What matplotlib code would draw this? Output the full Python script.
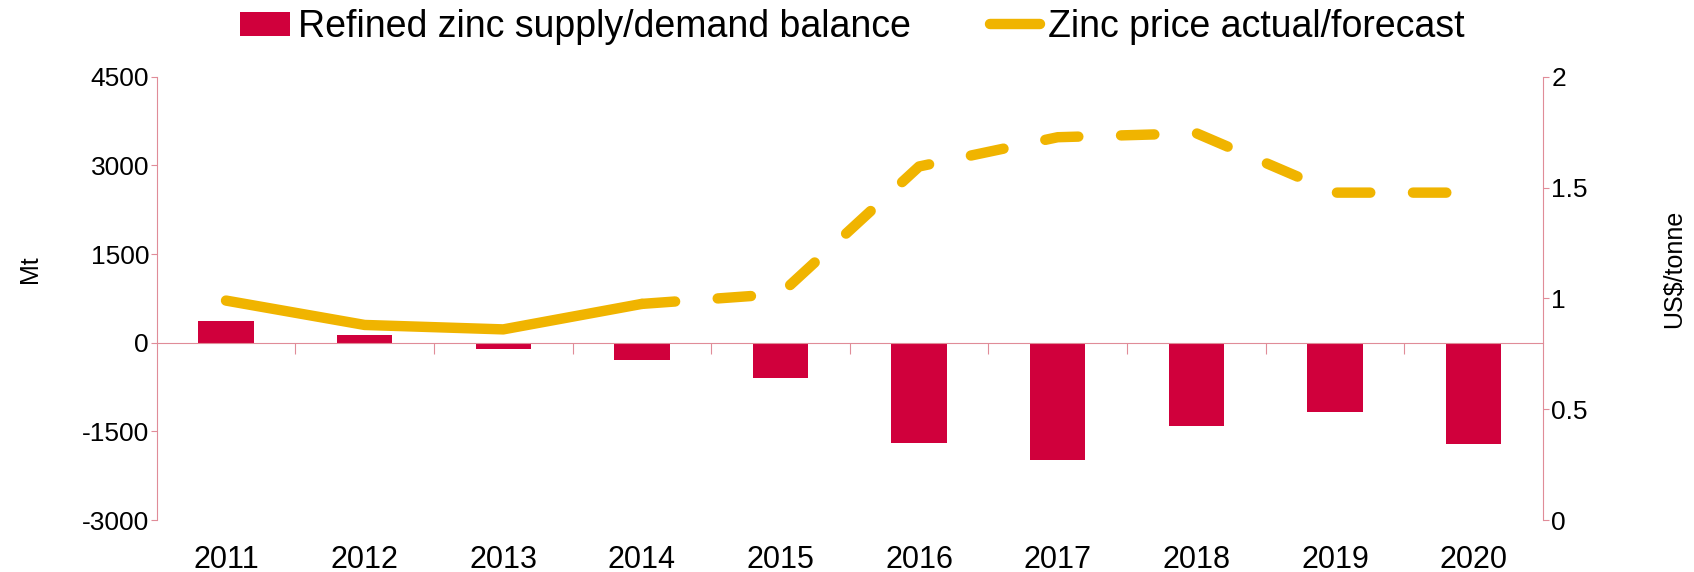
import numpy as np
import matplotlib.pyplot as plt
from matplotlib.lines import Line2D
from matplotlib.transforms import blended_transform_factory

plt.rcParams['font.family'] = ['Liberation Sans', 'DejaVu Sans']
plt.rcParams['axes.unicode_minus'] = False

years = ['2011', '2012', '2013', '2014', '2015', '2016', '2017', '2018', '2019', '2020']
balance = [362, 130, -100, -298, -592, -1691, -1989, -1404, -1172, -1713]
price = [0.99, 0.88, 0.86, 0.975, 1.02, 1.595, 1.727, 1.745, 1.477, 1.477]
n_actual = 4  # 2011-2014 actual, forecast from 2014 on

red = '#D0003C'
gold = '#F0B400'
pink = '#E08C98'
lw = 7.5

fig = plt.figure(figsize=(16.94, 5.72), dpi=100)
ax = fig.add_axes([0.0925, 0.0909, 0.8183, 0.775])
x = np.arange(len(years))

bars = ax.bar(x, balance, width=0.4, color=red, zorder=2)
ax.set_xlim(-0.5, len(years) - 0.5)
ax.set_ylim(-3000, 4500)
ax.set_yticks(range(-3000, 4501, 1500))
ax.set_ylabel('Mt', fontsize=18)
ax.yaxis.set_label_coords(-0.083, 0.566)
ax.tick_params(axis='y', labelsize=19, length=4, color=pink, pad=1.5)

# zero line carries the category ticks, years sit under the plot
ax.spines['bottom'].set_position(('data', 0))
ax.spines['bottom'].set_color(pink)
ax.spines['left'].set_color(pink)
ax.spines['top'].set_visible(False)
ax.spines['right'].set_visible(False)
ax.set_xticks(x[:-1] + 0.5)
ax.tick_params(axis='x', length=8, color=pink, labelbottom=False)
trans = blended_transform_factory(ax.transData, ax.transAxes)
for xi, yr in zip(x, years):
    ax.text(xi, -0.108, yr, transform=trans, ha='center', va='baseline', fontsize=22)

ax2 = ax.twinx()
ax2.set_ylim(0, 2)
ax2.set_yticks([0, 0.5, 1, 1.5, 2])
ax2.set_yticklabels(['0', '0.5', '1', '1.5', '2'])
ax2.tick_params(axis='y', labelsize=19, length=4, color=pink, pad=2)
ax2.set_ylabel('US$/tonne', fontsize=18)
ax2.yaxis.set_label_coords(1.086, 0.566)
for s in ['top', 'left', 'bottom']:
    ax2.spines[s].set_visible(False)
ax2.spines['right'].set_color(pink)

ax2.plot(x[:n_actual], price[:n_actual], color=gold, lw=lw,
         solid_capstyle='round', solid_joinstyle='round')
ax2.plot(x[n_actual - 1:], price[n_actual - 1:], color=gold, lw=lw,
         dashes=(3.2, 4.1), dash_capstyle='round', dash_joinstyle='round')

line_handle = Line2D([], [], color=gold, lw=lw, solid_capstyle='round')
fig.legend([bars, line_handle],
           ['Refined zinc supply/demand balance', 'Zinc price actual/forecast'],
           loc='center', bbox_to_anchor=(0.503, 0.953), ncol=2, frameon=False,
           fontsize=27, handlelength=1.35, handletextpad=0.2,
           columnspacing=2.1, handleheight=0.6)

fig.savefig('out.png', dpi=100)
